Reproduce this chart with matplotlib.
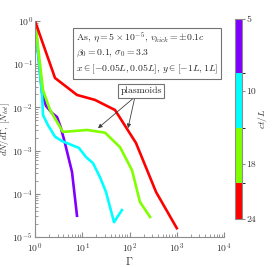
import matplotlib
matplotlib.use('Agg')
import matplotlib.pyplot as plt
from matplotlib.colors import ListedColormap, BoundaryNorm
import matplotlib.colorbar as mcolorbar
import numpy as np

plt.rcParams['font.family'] = 'serif'
plt.rcParams['font.serif'] = ['cmr10', 'DejaVu Serif']
plt.rcParams['mathtext.fontset'] = 'cm'
plt.rcParams['axes.formatter.use_mathtext'] = True

# spectra dN/dGamma at different times ct/L
g_5 = [1.0, 1.41, 1.71, 2.29, 2.92, 3.55, 4.3, 6.07, 7.74]
f_5 = [1.0, 0.0215, 0.0108, 0.0074, 0.006, 0.0033, 0.0015, 3.2e-4, 3.1e-5]

g_10 = [1.0, 1.41, 1.48, 1.88, 2.65, 3.73, 8.5, 12, 16.9, 23.8, 31.8, 47, 69]
f_10 = [1.0, 0.0194, 0.0066, 0.0039, 0.0021, 0.00166, 0.00115, 7.1e-4, 5.1e-4,
        2.4e-4, 1.1e-4, 2.2e-5, 4.2e-5]

g_18 = [1.0, 1.48, 2.08, 3.9, 12.6, 30.3, 63, 113, 166, 272]
f_18 = [1.0, 0.025, 0.0087, 0.0027, 0.0030, 0.0026, 0.0012, 3.5e-4, 6.5e-5, 2.9e-5]

g_24 = [1.0, 2.65, 7.74, 18.6, 49.3, 137, 364, 1000]
f_24 = [1.0, 0.048, 0.0194, 0.0149, 0.0087, 0.0015, 1.1e-4, 1.6e-5]

times = [5, 10, 18, 24]
colors = ['#8000ff', '#00ffff', '#80ff00', '#ff0000']
series = [(g_5, f_5), (g_10, f_10), (g_18, f_18), (g_24, f_24)]

# colorbar layout (fractions along the bar, top to bottom)
cb_bounds = [0.0, 0.27, 0.545, 0.82, 1.0]
cb_ticks = [0.0, 0.36, 0.725, 1.0]

fig = plt.figure(figsize=(2.74, 2.67), dpi=100)
ax = fig.add_axes([0.1277, 0.1124, 0.69, 0.809])

for (g, f), c in zip(series, colors):
    ax.plot(g, f, color=c, lw=1.9)

ax.set_xscale('log')
ax.set_yscale('log')
ax.set_xlim(1, 1e4)
ax.set_ylim(1e-5, 1)
ax.spines['top'].set_visible(False)
ax.spines['right'].set_visible(False)
for s in ['left', 'bottom']:
    ax.spines[s].set_color('0.55')
    ax.spines[s].set_linewidth(0.8)
ax.tick_params(which='both', direction='in', colors='0.55', labelcolor='0.2',
               labelsize=7)
ax.tick_params(axis='y', pad=1.5)
ax.tick_params(axis='x', pad=3)
ax.tick_params(which='major', length=3.5)
ax.tick_params(which='minor', length=2)
ax.set_xlabel(r'$\Gamma$', fontsize=8, labelpad=0, color='0.2')
ax.set_ylabel(r'$dN/d\Gamma$, $[N_{tot}]$', fontsize=6.5, color='0.2')
ax.yaxis.set_label_coords(-0.12, 0.5)

ax.text(0.215, 0.955,
        'As, $\\eta=5\\times10^{-5}$, $v_{kick}=\\pm0.1c$\n'
        '$\\beta_0=0.1$, $\\sigma_0=3.3$\n'
        '$x\\in[-0.05L,0.05L]$, $y\\in[-1L,1L]$',
        transform=ax.transAxes, va='top', ha='left', fontsize=7,
        linespacing=1.4, color='0.15',
        bbox=dict(boxstyle='square,pad=0.3', fc='white', ec='0.45', lw=0.8))

for tip in [(21.5, 0.0033), (93, 0.0033)]:
    ax.annotate('', xy=tip, xytext=(130, 0.0175),
                arrowprops=dict(arrowstyle='-|>', color='0.25', lw=0.6,
                                mutation_scale=6, shrinkA=0, shrinkB=0))
ax.text(175, 0.024, 'plasmoids', ha='center', va='center', fontsize=7,
        color='0.15',
        bbox=dict(boxstyle='square,pad=0.25', fc='white', ec='0.45', lw=0.8))

cax = fig.add_axes([0.8577, 0.1798, 0.0255, 0.749])
cmap = ListedColormap(colors)
norm = BoundaryNorm(cb_bounds, cmap.N)
cb = mcolorbar.ColorbarBase(cax, cmap=cmap, norm=norm, boundaries=cb_bounds,
                            spacing='proportional', ticks=cb_ticks)
cax.invert_yaxis()
cb.set_ticklabels([str(t) for t in times])
cb.outline.set_edgecolor('0.55')
cb.outline.set_linewidth(0.8)
cax.tick_params(labelsize=7, length=2, colors='0.55', labelcolor='0.2', pad=1)
cb.set_label(r'$ct/L$', fontsize=7, color='0.2', labelpad=0)

fig.savefig('out.png', dpi=100)
